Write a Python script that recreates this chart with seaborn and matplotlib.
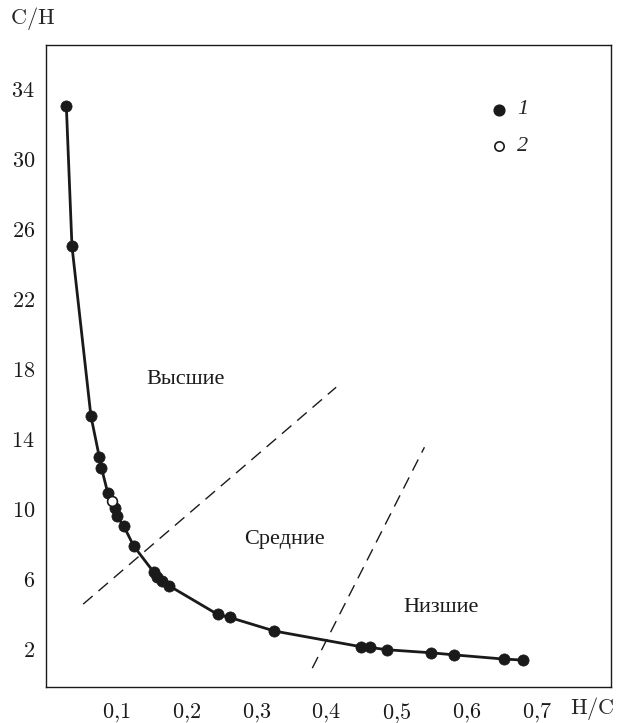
import matplotlib
matplotlib.use("Agg")
import matplotlib.pyplot as plt
import seaborn as sns
import pandas as pd

# Данные: H/C и C/H (серия 1 - закрашенные, серия 2 - открытые)
hc_1 = [0.029, 0.037, 0.064, 0.076, 0.079, 0.088, 0.099, 0.101, 0.111, 0.125,
        0.154, 0.159, 0.165, 0.176, 0.245, 0.262, 0.326, 0.450, 0.463, 0.487,
        0.549, 0.582, 0.653, 0.681]
ch_1 = [33.1, 25.1, 15.4, 13.05, 12.44, 11.0, 10.13, 9.67, 9.09, 7.96,
        6.44, 6.19, 5.94, 5.67, 4.04, 3.87, 3.09, 2.19, 2.15, 2.02,
        1.85, 1.73, 1.49, 1.43]
hc_2 = [0.094]
ch_2 = [10.5]

# границы областей (штриховые линии)
border_a_x = [0.053, 0.414]
border_a_y = [4.63, 17.03]
border_b_x = [0.380, 0.540]
border_b_y = [0.97, 13.6]

region_labels = ["Высшие", "Средние", "Низшие"]
region_x = [0.199, 0.340, 0.564]
region_y = [17.5, 8.3, 4.46]

x_ticks = [0.1, 0.2, 0.3, 0.4, 0.5, 0.6, 0.7]
y_ticks = [2, 6, 10, 14, 18, 22, 26, 30, 34]

sns.set_style("white")
plt.rcParams["mathtext.fontset"] = "cm"
plt.rcParams["font.family"] = ["Liberation Serif", "DejaVu Serif"]

fig = plt.figure(figsize=(6.17, 7.23), dpi=100)
ax = fig.add_axes([0.0746, 0.050, 0.9154, 0.8878])

curve = pd.DataFrame({"hc": hc_1 + hc_2, "ch": ch_1 + ch_2}).sort_values("hc")
sns.lineplot(data=curve, x="hc", y="ch", sort=True, estimator=None,
             color="#1a1a1a", linewidth=2.0, ax=ax)
sns.scatterplot(x=hc_1, y=ch_1, s=65, color="#1a1a1a", edgecolor="#1a1a1a",
                linewidth=0.5, ax=ax, zorder=3)
sns.scatterplot(x=hc_2, y=ch_2, s=50, color="white", edgecolor="#1a1a1a",
                linewidth=1.2, ax=ax, zorder=4)

ax.plot(border_a_x, border_a_y, color="#1a1a1a", linestyle=(0, (9, 5.5)), linewidth=1.0)
ax.plot(border_b_x, border_b_y, color="#1a1a1a", linestyle=(0, (9, 5.5)), linewidth=1.0)

for lab, tx, ty in zip(region_labels, region_x, region_y):
    ax.text(tx, ty, lab, fontsize=16, ha="center", va="center", color="#1a1a1a")

# легенда
ax.scatter([0.647], [32.9], s=60, color="#1a1a1a", zorder=3)
ax.scatter([0.647], [30.8], s=45, color="white", edgecolor="#1a1a1a",
           linewidth=1.2, zorder=3)
ax.text(0.672, 32.9, "1", fontsize=16, fontstyle="italic", va="center", ha="left")
ax.text(0.672, 30.8, "2", fontsize=16, fontstyle="italic", va="center", ha="left")

ax.set_xlim(0, 0.806)
ax.set_ylim(-0.1, 36.6)
ax.set_xticks(x_ticks)
ax.set_xticklabels([r"$%s$" % ("%.1f" % t).replace(".", "{,}") for t in x_ticks])
ax.set_yticks(y_ticks)
ax.set_yticklabels([r"$%d$" % t for t in y_ticks])
ax.tick_params(direction="in", length=7, width=1, labelsize=16, colors="#1a1a1a",
               pad=10)
ax.tick_params(axis="y", pad=8)
for sp in ax.spines.values():
    sp.set_linewidth(1.0)
    sp.set_color("#1a1a1a")
ax.set_xlabel("")
ax.set_ylabel("")

fig.text(33 / 617, 1 - 18 / 723, r"$\mathrm{C/H}$", fontsize=16, ha="center", va="center")
fig.text(592 / 617, 1 - 708 / 723, r"$\mathrm{H/C}$", fontsize=16, ha="center", va="center")

fig.savefig("out.png", dpi=100)
